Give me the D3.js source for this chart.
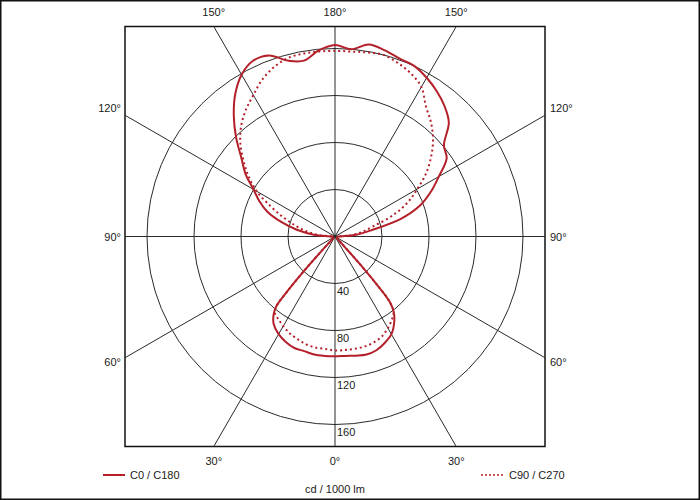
<!DOCTYPE html>
<html>
<head>
<meta charset="utf-8">
<script src="https://cdn.jsdelivr.net/npm/d3@7"></script>
<style>
  html, body { margin: 0; padding: 0; background: #fff; }
  svg { display: block; }
  text { font-family: "Liberation Sans", Arial, sans-serif; font-size: 11px; fill: #1a1a1a; }
</style>
</head>
<body>
<svg id="chart" width="700" height="500"></svg>
<script>
// ---- data (cd / 1000 lm) ----
const gamma = [0,5,10,15,20,25,30,35,38,40,41,42,43,45,50,60,70,80,90,95,100,105,110,115,120,125,130,135,140,145,150,155,160,165,170,175,180];
// C0 / C180 plane (solid): right half C0, left half C180
const c0   = [102,102,103,104,103,100,96,88,81,72,55,32,12,4,2,2,2,2,3,18,32,58,77,90,102,116,121,137,145,151,156,160,161,164,166,160,163];
const c180 = [102,102,102,101,101,99,96,91,85,78,62,38,15,4,2,2,2,2,3,18,33,47,61,71,80,93,104,119,134,148,159,165,164,155,152,159,163];
// C90 / C270 plane (dotted): right half C90, left half C270
const c90  = [97,97,97,97,96,94,90,85,81,72,55,32,12,4,2,2,2,2,3,15,24,34,52,68,81,95,107,118,127,135,147,153,157,160,159,158,158];
const c270 = [97,96,96,95,93,91,88,85,83,78,62,38,15,4,2,2,2,2,3,14,24,34,46,60,77,90,102,114,124,132,139,147,153,157,158,158,158];
const ringValues = [40, 80, 120, 160];
const angleTicks = [0, 30, 60, 90, 120, 150, 180];
const seriesNames = ["C0 / C180", "C90 / C270"];
const unitLabel = "cd / 1000 lm";

// ---- layout ----
const svg = d3.select("#chart");
const cx = 335, cy = 236.5, half = 210;
const box = { x0: cx - half, x1: cx + half, y0: cy - half, y1: cy + half };
const r = d3.scaleLinear().domain([0, 160]).range([0, 188]);
const gridColor = "#2a2a2a";
const textColor = "#1a1a1a";
const red = "#b3202a";

// outer frame
svg.append("rect").attr("x", 0.75).attr("y", 0.75).attr("width", 698.5).attr("height", 498.5)
  .attr("fill", "none").attr("stroke", "#111").attr("stroke-width", 1.5);

// plot box
svg.append("rect").attr("x", box.x0).attr("y", box.y0).attr("width", 2 * half).attr("height", 2 * half)
  .attr("fill", "#fff").attr("stroke", "#111").attr("stroke-width", 1.5);

const g = svg.append("g").attr("transform", `translate(${cx},${cy})`);

// rings
g.selectAll("circle.ring").data(ringValues).join("circle")
  .attr("class", "ring").attr("r", d => r(d))
  .attr("fill", "none").attr("stroke", gridColor).attr("stroke-width", 1);

// radial lines to box edge (gamma measured from straight down)
const rad = d => d * Math.PI / 180;
function edgePoint(gdeg, side) {
  const a = rad(gdeg);
  const dx = side * Math.sin(a), dy = Math.cos(a);
  const t = Math.min(Math.abs(dx) > 1e-9 ? half / Math.abs(dx) : Infinity,
                     Math.abs(dy) > 1e-9 ? half / Math.abs(dy) : Infinity);
  return [dx * t, dy * t];
}
const spokes = [];
angleTicks.forEach(a => { spokes.push({ a, side: 1 }); if (a !== 0 && a !== 180) spokes.push({ a, side: -1 }); });
g.selectAll("line.spoke").data(spokes).join("line")
  .attr("class", "spoke")
  .attr("x1", 0).attr("y1", 0)
  .attr("x2", d => edgePoint(d.a, d.side)[0])
  .attr("y2", d => edgePoint(d.a, d.side)[1])
  .attr("stroke", gridColor).attr("stroke-width", 1);

// angle labels
spokes.forEach(d => {
  const [ex, ey] = edgePoint(d.a, d.side);
  let x = cx + ex, y = cy + ey, anchor = "middle";
  if (Math.abs(Math.abs(ey) - half) < 0.5) {          // top / bottom edge
    y = ey < 0 ? box.y0 - 11 : box.y1 + 18;
  } else {                                            // left / right edge
    anchor = d.side < 0 ? "end" : "start";
    x = d.side < 0 ? box.x0 - 4 : box.x1 + 5;
    y = y + (d.a > 90 ? -3 : d.a < 90 ? 8 : 4);
  }
  svg.append("text").attr("x", x).attr("y", y).attr("text-anchor", anchor)
    .attr("fill", textColor).text(d.a + "°");
});

// ring value labels along the downward axis
g.selectAll("text.rv").data(ringValues).join("text")
  .attr("class", "rv").attr("x", 2).attr("y", d => r(d) + 11)
  .attr("fill", textColor).text(d => d);

// ---- curves ----
function closedPoints(right, left) {
  const pts = [];
  gamma.forEach((gm, i) => pts.push([Math.PI - rad(gm), r(right[i])]));            // right half, 0 -> 180
  for (let i = gamma.length - 2; i >= 1; i--) pts.push([Math.PI + rad(gamma[i]), r(left[i])]); // left half
  return pts;
}
const radial = d3.lineRadial().angle(d => d[0]).radius(d => d[1])
  .curve(d3.curveCatmullRomClosed.alpha(0.5));

g.append("path").attr("d", radial(closedPoints(c90, c270)))
  .attr("fill", "none").attr("stroke", red).attr("stroke-width", 2)
  .attr("stroke-dasharray", "2,3");
g.append("path").attr("d", radial(closedPoints(c0, c180)))
  .attr("fill", "none").attr("stroke", red).attr("stroke-width", 2);

// ---- legend ----
svg.append("line").attr("x1", 103).attr("x2", 125).attr("y1", 475).attr("y2", 475)
  .attr("stroke", red).attr("stroke-width", 2);
svg.append("text").attr("x", 130).attr("y", 479).attr("fill", textColor).text(seriesNames[0]);
svg.append("line").attr("x1", 481).attr("x2", 503).attr("y1", 475).attr("y2", 475)
  .attr("stroke", red).attr("stroke-width", 1.5).attr("stroke-dasharray", "2,2");
svg.append("text").attr("x", 509).attr("y", 479).attr("fill", textColor).text(seriesNames[1]);
svg.append("text").attr("x", cx).attr("y", 493).attr("text-anchor", "middle")
  .attr("fill", textColor).text(unitLabel);
</script>
</body>
</html>
